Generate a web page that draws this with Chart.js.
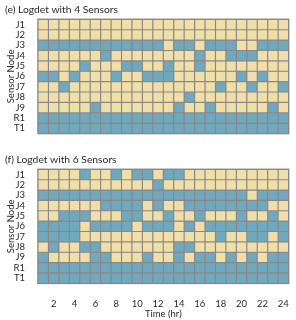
<!DOCTYPE html>
<html>
<head>
<meta charset="utf-8">
<script src="https://cdn.jsdelivr.net/npm/chart.js@4"></script>
<style>
  html, body { margin: 0; padding: 0; background: #fff; }
  canvas { display: block; }
</style>
</head>
<body>
<canvas id="panelE" width="296" height="150"></canvas>
<canvas id="panelF" width="296" height="170"></canvas>
<script>
const hours = [1, 2, 3, 4, 5, 6, 7, 8, 9, 10, 11, 12, 13, 14, 15, 16, 17, 18, 19, 20, 21, 22, 23, 24];
const nodes = ['J1', 'J2', 'J3', 'J4', 'J5', 'J6', 'J7', 'J8', 'J9', 'R1', 'T1'];

// 1 = sensor placed at that node for that hour
const sensors4 = [
  '000000000000000000000000',
  '000000000000000000000000',
  '111111111111011011100111',
  '000000100000000100111000',
  '000010001100100100000000',
  '110100010011100000010100',
  '001000000000000001001001',
  '000000000000001000000000',
  '000001000000010010000010',
  '111111111111111111111111',
  '111111111111111111111111'
];

const sensors6 = [
  '000010010110110000000000',
  '000000000001000000000000',
  '111111111111111111110111',
  '000000111101001111111100',
  '001110001100100100010010',
  '111101111011101011111111',
  '111100000000000001001101',
  '010011000000011000000000',
  '100001100010010110101011',
  '111111111111111111111111',
  '111111111111111111111111'
];

const blue = '#70a8be';
const yellow = '#f1dfa9';
const lineGrey = '#888888';
const textColor = '#2a2a2a';
const font = { family: 'Lato', size: 9.5 };

const gridBackground = {
  id: 'gridBackground',
  beforeDatasetsDraw: (chart) => {
    const { ctx, chartArea } = chart;
    ctx.save();
    ctx.fillStyle = lineGrey;
    ctx.fillRect(chartArea.left - 0.8, chartArea.top - 0.8,
      chartArea.right - chartArea.left + 1.6, chartArea.bottom - chartArea.top + 1.6);
    ctx.restore();
  }
};

const makeChart = (id, title, rows, showTimeTitle) => {
  const datasets = rows.map((row, i) => ({
    label: nodes[i],
    data: hours.map(() => 1),
    backgroundColor: row.split('').map((c) => c === '1' ? blue : yellow),
    borderColor: lineGrey,
    borderWidth: 0.9,
    borderSkipped: false,
    barPercentage: 1,
    categoryPercentage: 1
  }));

  return new Chart(document.getElementById(id), {
    type: 'bar',
    data: { labels: hours, datasets },
    options: {
      responsive: false,
      animation: false,
      devicePixelRatio: 1,
      layout: { padding: { left: 5, right: 6.5, top: 0, bottom: 0 } },
      plugins: {
        legend: { display: false },
        tooltip: { enabled: false },
        title: {
          display: true,
          text: title,
          align: 'start',
          color: textColor,
          font: { family: 'Lato', size: 10.3, weight: 'normal' },
          padding: { top: 3.5, bottom: 3.5 }
        }
      },
      scales: {
        x: {
          type: 'category',
          stacked: true,
          grid: { display: false },
          border: { display: false },
          ticks: {
            autoSkip: false,
            maxRotation: 0,
            padding: 7,
            color: textColor,
            font,
            callback: (v, i) => hours[i] % 2 === 0 ? String(hours[i]) : ''
          },
          title: {
            display: showTimeTitle,
            text: 'Time (hr)',
            color: textColor,
            font,
            padding: { top: 2, bottom: 0 }
          },
          afterFit: (scale) => { scale.height = showTimeTitle ? 36.7 : 16.5; }
        },
        y: {
          type: 'linear',
          stacked: true,
          reverse: true,
          min: 0,
          max: nodes.length,
          grid: { display: false },
          border: { display: false },
          afterBuildTicks: (axis) => {
            axis.ticks = nodes.map((n, i) => ({ value: i + 0.5 }));
          },
          ticks: {
            autoSkip: false,
            padding: 5,
            color: textColor,
            font,
            callback: (v, i) => nodes[i]
          },
          title: {
            display: true,
            text: 'Sensor Node',
            color: textColor,
            font,
            padding: { top: 0, bottom: 0 }
          },
          afterFit: (scale) => { scale.width = 33; }
        }
      }
    },
    plugins: [gridBackground]
  });
};

makeChart('panelE', '(e) Logdet with 4 Sensors', sensors4, false);
makeChart('panelF', '(f) Logdet with 6 Sensors', sensors6, true);
</script>
</body>
</html>
